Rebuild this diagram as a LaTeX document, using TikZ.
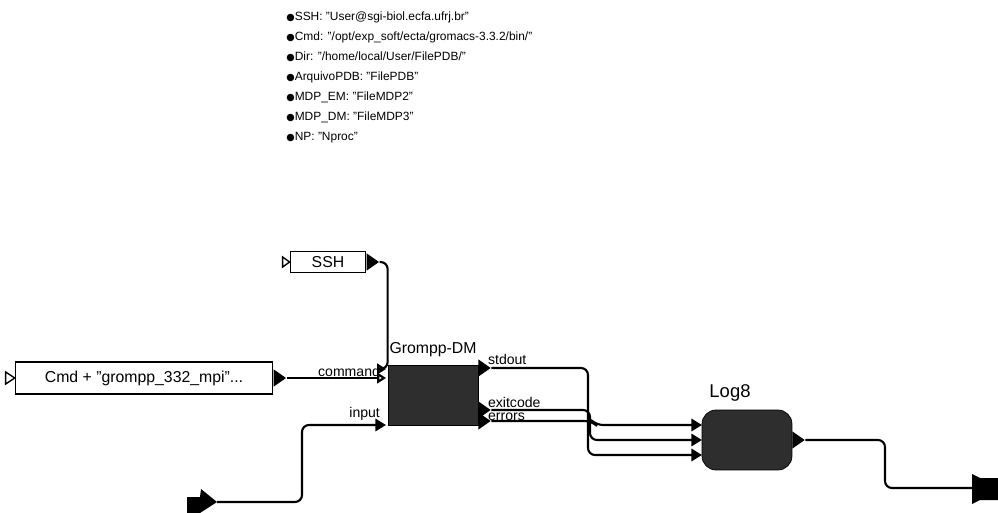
\documentclass[tikz,border=0pt]{standalone}
\usepackage{fontspec}
\setmainfont{Liberation Sans}
\newfontfamily\symfont{DejaVu Sans}
\usetikzlibrary{arrows.meta, shapes.geometric, positioning}

\newcommand{\dotitem}{{\fontsize{5.5}{0}\symfont ●}}

\begin{document}
\begin{tikzpicture}[
    x=0.02cm, y=-0.02cm,
    every node/.style={align=center},
    block/.style={rectangle, draw=black, line width=1pt, fill=white, minimum height=0.42cm, inner sep=2pt, font=\fontsize{9}{10}\selectfont},
    actor/.style={rectangle, draw=black, fill=black!82, minimum width=1.8cm, minimum height=1.2cm},
    title/.style={font=\fontsize{9}{10}\selectfont},
    portname/.style={font=\fontsize{8}{9}\selectfont, inner sep=1pt},
    outport/.style={isosceles triangle, isosceles triangle apex angle=70, fill=black, inner sep=0pt, minimum height=7pt},
    wire/.style={line width=1.2pt, rounded corners=4pt},
    openin/.style={wire, -{Triangle[open, length=5pt, width=6pt]}},
    fullin/.style={wire, -{Triangle[length=6pt, width=7pt]}}
]
\useasboundingbox (0,0) rectangle (998,513);

% Parameters
\node[anchor=north west, align=left, inner sep=0pt, font=\fontsize{6.8}{11.4}\selectfont] (params) at (286,11)
  {\dotitem SSH: "User@sgi-biol.ecfa.ufrj.br"\\
   \dotitem Cmd: "/opt/exp\_soft/ecta/gromacs-3.3.2/bin/"\\
   \dotitem Dir: "/home/local/User/FilePDB/"\\
   \dotitem ArquivoPDB: "FilePDB"\\
   \dotitem MDP\_EM: "FileMDP2"\\
   \dotitem MDP\_DM: "FileMDP3"\\
   \dotitem NP: "Nproc"};

% Constants
\node[block, minimum width=1.5cm] (ssh) at (328,262) {SSH};
\node[block, minimum width=5.14cm, minimum height=0.64cm] (cmd) at (144,378) {Cmd + "grompp\_332\_mpi"...};
\draw[thick, fill=white] (ssh.west) ++(-7,-5) -- ++(7,5) -- ++(-7,5) -- cycle;
\draw[thick, fill=white] (cmd.west) ++(-9,-6) -- ++(9,6) -- ++(-9,6) -- cycle;
\node[outport, anchor=west] (ssh-out) at (ssh.east) {};
\node[outport, anchor=west] (cmd-out) at (cmd.east) {};

% Actors
\node[actor] (grompp) at (433,395) {};
\node[title, above=1pt of grompp] (grompp-t) {Grompp-DM};
\node[actor, rounded corners=8pt] (log) at (747,440) {};
\node[title, font=\fontsize{10.5}{11}\selectfont, above=1pt of log, xshift=-0.34cm] (log-t) {Log8};

% Ports
\coordinate (g-ssh) at (386,369);
\coordinate (g-cmd) at (386,378);
\coordinate (g-in) at (386,425);
\node[outport, anchor=west] (g-out1) at (478,368) {};
\node[outport, anchor=west] (g-out2) at (478,410) {};
\node[outport, anchor=west] (g-out3) at (478,421) {};
\coordinate (l-in1) at (702,425);
\coordinate (l-in2) at (702,440);
\coordinate (l-in3) at (702,455);
\node[outport, anchor=west] (l-out) at (792,440) {};

% Terminals
\coordinate (src) at (217,502);
\coordinate (sink) at (972,488);
\fill (187,497) -- (200,497) -- (201,489) -- (src) -- (200,513) -- (187,513) -- cycle;
\fill (sink) ++(0,-14) -- ++(8,4) -- ++(18,0) -- ++(0,22) -- ++(-18,0) -- ++(-8,4) -- cycle;

% Wires
\draw[openin] (ssh-out.east) -- ++(8,0) |- (g-ssh);
\draw[openin] (cmd-out.east) -- (g-cmd);
\draw[fullin] (src) -| (302,425) -- (g-in);
\draw[fullin] (g-out3.east) -- (592,421) -- (596,425) -- (l-in1);
\draw[fullin] (g-out2.east) -- (590,410) -- (590,440) -- (l-in2);
\draw[fullin] (g-out1.east) -- (588,368) -- (588,455) -- (l-in3);
\draw[wire] (l-out.east) -- (885,440) -- (885,488) -- (sink);

% Port names
\node[portname, anchor=south east] (n-cmd) at (382,379) {command};
\node[portname, anchor=south east] (n-in) at (382,423) {input};
\node[portname, anchor=south west] (n-out1) at (486,367) {stdout};
\node[portname, anchor=south west] (n-out2) at (486,410) {exitcode};
\node[portname, anchor=south west] (n-out3) at (486,423) {errors};

\end{tikzpicture}
\end{document}
